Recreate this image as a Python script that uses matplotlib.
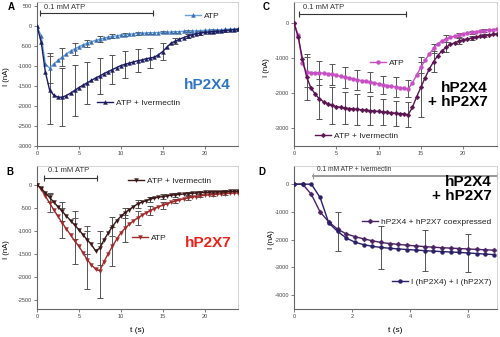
import numpy as np
import matplotlib.pyplot as plt
from matplotlib.legend import Legend

plt.rcParams['font.family'] = ['Liberation Sans', 'DejaVu Sans']
plt.rcParams['axes.unicode_minus'] = False

# time base (s): panels A-C sampled every 0.5 s, panel D every 0.3 s
t = np.arange(49) * 0.5
t_d = np.round(np.arange(24) * 0.3, 1)
err_t = [1.5, 3, 4.5, 6, 7.5, 9, 10.5, 12, 13.5, 15, 16.5, 18, 19.5, 21, 22.5]
err_t_d = [1.5, 3.0, 4.5, 6.0]

# A: hP2X4
a_atp = [0, -250, -950, -1050, -950, -860, -780, -700, -630, -570, -520, -470, -430,
         -390, -360, -330, -300, -280, -260, -245, -225, -215, -205, -195, -185, -180,
         -175, -170, -165, -163, -160, -155, -150, -145, -140, -135, -130, -125, -120,
         -115, -110, -105, -100, -95, -90, -85, -80, -75, -70]
a_ivm = [0, -400, -1150, -1600, -1730, -1780, -1780, -1740, -1680, -1610, -1540, -1480,
         -1420, -1360, -1300, -1250, -1190, -1140, -1090, -1040, -990, -960, -930, -900,
         -870, -850, -820, -800, -780, -720, -640, -530, -430, -380, -330, -290, -250,
         -220, -195, -175, -160, -150, -140, -130, -125, -110, -100, -90, -85]
a_atp_err = [375, 230, 150, 90, 70, 50, 40, 30, 30, 25, 20, 20, 15, 15, 15]
a_ivm_err = [850, 720, 630, 520, 440, 370, 330, 290, 250, 220, 80, 50, 40, 30, 30]

# B: hP2X7
b_ivm = [0, -80, -180, -280, -380, -480, -580, -680, -780, -880, -980, -1090, -1200,
         -1300, -1440, -1380, -1200, -1050, -910, -790, -690, -610, -545, -480, -420,
         -385, -350, -320, -290, -275, -260, -245, -232, -222, -213, -205, -197, -190,
         -183, -177, -170, -166, -162, -158, -155, -152, -150, -147, -145]
b_atp = [0, -100, -250, -400, -545, -690, -830, -960, -1090, -1220, -1340, -1480, -1630,
         -1740, -1840, -1870, -1670, -1500, -1340, -1190, -1050, -950, -860, -790, -725,
         -670, -615, -565, -520, -485, -450, -415, -385, -360, -335, -310, -290, -275,
         -260, -245, -232, -224, -217, -210, -203, -197, -191, -186, -181]
b_atp_err = [190, 330, 500, 630, 600, 430, 300, 150, 100, 70, 50, 40, 30, 30, 30]
b_ivm_err = [100, 200, 300, 300, 370, 200, 110, 80, 60, 50, 40, 30, 30, 30, 30]

# C: hP2X4 + hP2X7
c_atp = [0, -350, -1150, -1400, -1410, -1415, -1420, -1430, -1445, -1465, -1490, -1515,
         -1540, -1565, -1590, -1615, -1640, -1660, -1685, -1710, -1730, -1755, -1780,
         -1800, -1820, -1840, -1857, -1876, -1700, -1480, -1260, -1060, -880, -720, -590,
         -510, -450, -410, -370, -335, -305, -285, -265, -245, -230, -215, -200, -185, -170]
c_ivm = [0, -400, -1020, -1540, -1850, -2020, -2160, -2240, -2300, -2345, -2380, -2400,
         -2420, -2435, -2448, -2460, -2472, -2484, -2495, -2507, -2519, -2531, -2543,
         -2555, -2567, -2579, -2590, -2610, -2400, -2100, -1830, -1560, -1305, -1100, -924,
         -790, -686, -610, -560, -515, -476, -450, -425, -400, -371, -355, -338, -322, -305]
c_atp_err = [430, 330, 310, 300, 280, 285, 260, 280, 240, 150, 120, 100, 60, 50, 40]
c_ivm_err = [660, 570, 530, 460, 430, 410, 380, 360, 360, 850, 300, 150, 80, 60, 50]

# D: coexpressed vs. sum of single currents (ATP + ivermectin)
d_coex = [0, 0, -370, -1000, -1360, -1620, -1790, -1890, -1970, -2040, -2100, -2140,
          -2170, -2200, -2225, -2250, -2270, -2290, -2305, -2320, -2335, -2350, -2365, -2380]
d_sum = [0, 0, 0, -480, -1400, -1700, -1940, -2090, -2180, -2240, -2280, -2310, -2335,
         -2355, -2375, -2395, -2415, -2430, -2445, -2460, -2480, -2500, -2520, -2540]
d_sum_err = [700, 780, 750, 700]

fig = plt.figure(figsize=(5, 3.37), dpi=100)
axA = fig.add_axes([0.074, 0.567, 0.402, 0.427])
axC = fig.add_axes([0.588, 0.567, 0.406, 0.427])
axB = fig.add_axes([0.074, 0.083, 0.402, 0.424])
axD = fig.add_axes([0.588, 0.083, 0.406, 0.424])


def style(ax, xlim, ylim, yticks, xticks):
    ax.set_xlim(*xlim)
    ax.set_ylim(*ylim)
    ax.set_yticks(yticks)
    ax.set_xticks(xticks)
    for s in ['left', 'bottom']:
        ax.spines[s].set_color('#666666')
        ax.spines[s].set_linewidth(0.8)
    for s in ['top', 'right']:
        ax.spines[s].set_color('#cccccc')
        ax.spines[s].set_linewidth(0.6)
    ax.tick_params(labelsize=4, length=2, width=0.6, color='#666666',
                   labelcolor='#444444', pad=1.5)


def trace(ax, x, y, color, marker, ms, lw=1.0, mfc=None):
    line, = ax.plot(x, y, color=color, lw=lw, marker=marker, ms=ms,
                    mfc=mfc or color, mec=mfc or color, mew=0.3, zorder=3)
    return line


def bars(ax, x, y, ex, err):
    x = np.asarray(x)
    idx = [int(np.argmin(np.abs(x - e))) for e in ex]
    ax.errorbar(x[idx], np.asarray(y)[idx], yerr=err, fmt='none', ecolor='#555555',
                elinewidth=0.7, capsize=2, capthick=0.7, zorder=2)


def tag(ax, line, label, x, y):
    # one free-floating key per series
    leg = Legend(ax, [line], [label], loc='center left', bbox_to_anchor=(x, y),
                 frameon=False, fontsize=6, handlelength=1.9, handletextpad=0.4,
                 borderpad=0, borderaxespad=0)
    for txt in leg.get_texts():
        txt.set_color('#222222')
    ax.add_artist(leg)


def stim(ax, t0, t1, y, label, ty, fs=5.5, lw=0.8, color='#333333'):
    ax.plot([t0, t1], [y, y], color=color, lw=lw, clip_on=False)
    ax.plot([t0, t1], [y, y], ls='none', marker='|', ms=5, mew=0.8, color=color,
            clip_on=False)
    ax.text(t0 + 0.5 * ax.get_xlim()[1] / 24, ty, label, fontsize=fs,
            color='#333333', va='center', ha='left')


# A
style(axA, (0, 24), (-3000, 600), np.arange(-3000, 501, 500), [0, 5, 10, 15, 20])
bars(axA, t, a_atp, err_t, a_atp_err)
bars(axA, t, a_ivm, err_t, a_ivm_err)
la1 = trace(axA, t, a_atp, '#6aa3dc', '^', 2.8, mfc='#3a6fae')
la2 = trace(axA, t, a_ivm, '#1c1c5e', '^', 2.8)
stim(axA, 0.3, 13.8, 325, '0.1 mM ATP', 460)
tag(axA, la1, 'ATP', 0.736, 0.903)
tag(axA, la2, 'ATP + Ivermectin', 0.30, 0.30)
axA.text(0.846, 0.424, 'hP2X4', transform=axA.transAxes, fontsize=11,
         fontweight='bold', color='#2f75c4', ha='center', va='center')

# B
style(axB, (0, 24), (-2700, 400), np.arange(-2500, 1, 500), [0, 5, 10, 15, 20])
bars(axB, t, b_atp, err_t, b_atp_err)
bars(axB, t, b_ivm, err_t, b_ivm_err)
lb2 = trace(axB, t, b_atp, '#9c2c2c', 'v', 2.8)
lb1 = trace(axB, t, b_ivm, '#3a1818', 'v', 2.8)
stim(axB, 0.8, 7.2, 145, '0.1 mM ATP', 300)
tag(axB, lb1, 'ATP + Ivermectin', 0.453, 0.895)
tag(axB, lb2, 'ATP', 0.473, 0.497)
axB.text(0.851, 0.46, 'hP2X7', transform=axB.transAxes, fontsize=11,
         fontweight='bold', color='#e8231c', ha='center', va='center')
axB.set_xlabel('t (s)', fontsize=6, labelpad=6)

# C
style(axC, (0, 24), (-3500, 600), np.arange(-3000, 1, 1000), [0, 5, 10, 15, 20])
bars(axC, t, c_atp, err_t, c_atp_err)
bars(axC, t, c_ivm, err_t, c_ivm_err)
lc1 = trace(axC, t, c_atp, '#c64fc4', 'o', 2.8)
lc2 = trace(axC, t, c_ivm, '#5a1450', 'D', 2.4)
stim(axC, 0.55, 13.25, 257, '0.1 mM ATP', 450)
tag(axC, lc1, 'ATP', 0.374, 0.576)
tag(axC, lc2, 'ATP + Ivermectin', 0.103, 0.07)
axC.text(0.956, 0.357, 'hP2X4\n+ hP2X7', transform=axC.transAxes, fontsize=11,
         fontweight='bold', color='black', ha='right', va='center',
         multialignment='right', linespacing=1.0)

# D
style(axD, (0, 7), (-4500, 650), np.arange(-4000, 1, 1000), [0, 2, 4, 6])
bars(axD, t_d, d_sum, err_t_d, d_sum_err)
ld1 = trace(axD, t_d, d_coex, '#4a2262', 'D', 2.6)
ld2 = trace(axD, t_d, d_sum, '#2a2068', 'o', 2.8)
stim(axD, 0.66, 7.0, 303, '0.1 mM ATP + Ivermectin', 540, fs=4.8, lw=1.4,
     color='#999999')
tag(axD, ld1, 'hP2X4 + hP2X7 coexpressed', 0.335, 0.608)
tag(axD, ld2, 'I (hP2X4) + I (hP2X7)', 0.483, 0.19)
axD.text(0.975, 0.84, 'hP2X4\n+ hP2X7', transform=axD.transAxes, fontsize=11,
         fontweight='bold', color='black', ha='right', va='center',
         multialignment='right', linespacing=1.0)
axD.set_xlabel('t (s)', fontsize=6, labelpad=6)

# y labels and panel letters
for x, y in [(0.012, 0.774), (0.534, 0.80), (0.012, 0.258), (0.543, 0.288)]:
    fig.text(x, y, 'I (nA)', rotation=90, fontsize=5.5, ha='center', va='center')
for x, y, s in [(0.016, 0.978, 'A'), (0.526, 0.978, 'C'),
                (0.012, 0.49, 'B'), (0.516, 0.49, 'D')]:
    fig.text(x, y, s, fontsize=7, fontweight='bold', ha='left', va='center')

fig.savefig('out.png', dpi=100)
